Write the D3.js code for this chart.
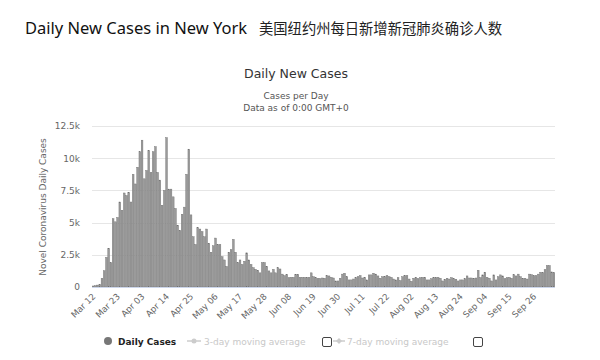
<!DOCTYPE html>
<html>
<head>
<meta charset="utf-8">
<script src="https://cdn.jsdelivr.net/npm/d3@7"></script>
<style>
  html, body { margin: 0; padding: 0; background: #fff; }
  svg { display: block; }
</style>
</head>
<body>
<svg id="chart" width="600" height="360"></svg>
<script>
// ---- data ----
const startDay = "2020-03-12";
const dailyCases = [
  80, 100, 150, 200, 670, 1260, 2300, 3000, 1900, 5300,
  5060, 5400, 6600, 5960, 7300, 7100, 7350, 6600, 8750, 8000,
  9300, 10500, 11400, 8400, 9050, 10600, 8900, 10500, 10900, 8900,
  8300, 6350, 7500, 11600, 7600, 7600, 7000, 6100, 4800, 4400,
  5650, 6200, 8750, 10700, 5600, 3900, 3300, 4600, 4500, 4300,
  3900, 4500, 3400, 2700, 3200, 3800, 3300, 3300, 2350, 2100,
  1600, 2700, 2900, 3700, 2700, 1900, 2100, 1750, 2000, 2650,
  2100, 1750, 1500, 1370, 1300, 1100, 1900, 1900, 1600, 1250,
  1100, 1370, 1100, 1500, 1400, 1000, 880, 980, 720, 750,
  750, 980, 980, 750, 750, 750, 750, 750, 1100, 800,
  720, 670, 650, 700, 680, 890, 860, 750, 700, 470,
  470, 680, 1000, 1070, 800, 550, 550, 620, 730, 800,
  890, 700, 750, 550, 940, 940, 1070, 1000, 860, 680,
  800, 800, 890, 800, 750, 620, 550, 730, 500, 800,
  890, 890, 620, 440, 680, 750, 650, 730, 750, 750,
  550, 550, 650, 730, 750, 750, 680, 470, 600, 680,
  620, 730, 650, 600, 470, 550, 550, 650, 860, 700,
  700, 680, 700, 1300, 730, 940, 1150, 750, 680, 470,
  940, 550, 800, 940, 860, 650, 730, 750, 680, 960,
  860, 1000, 800, 680, 680, 620, 1000, 960, 890, 890,
  1000, 1150, 1120, 1350, 1670, 1670, 1170, 1120
];
const yTicks = [0, 2500, 5000, 7500, 10000, 12500];
const yTickLabels = ["0", "2.5k", "5k", "7.5k", "10k", "12.5k"];
const xTickLabels = ["Mar 12", "Mar 23", "Apr 03", "Apr 14", "Apr 25", "May 06", "May 17", "May 28",
  "Jun 08", "Jun 19", "Jun 30", "Jul 11", "Jul 22", "Aug 02", "Aug 13", "Aug 24", "Sep 04", "Sep 15", "Sep 26"];
const legendItems = ["Daily Cases", "3-day moving average", "7-day moving average"];

// ---- chart ----
const svg = d3.select("#chart");
const parse = d3.timeParse("%Y-%m-%d");
const fmt = d3.timeFormat("%b %d");
const start = parse(startDay);
const days = d3.timeDay.range(start, d3.timeDay.offset(start, dailyCases.length));
const cats = days.map(fmt);

const plot = { left: 92, right: 555, top: 126, bottom: 287 };

const x = d3.scaleBand().domain(cats).range([plot.left, plot.right]).paddingInner(0.22).paddingOuter(0.1);
const y = d3.scaleLinear().domain([0, 12500]).range([plot.bottom, plot.top]);

// titles
svg.append("text").attr("x", 25).attr("y", 34)
  .style("font-family", "'Noto Sans', 'Open Sans', sans-serif").style("font-size", "16.5px").style("fill", "#111")
  .text("Daily New Cases in New York");
svg.append("text").attr("x", 259).attr("y", 34)
  .style("font-family", "'Noto Sans CJK SC', sans-serif").style("font-size", "14.3px").style("fill", "#222")
  .text("美国纽约州每日新增新冠肺炎确诊人数");

svg.append("text").attr("x", 296).attr("y", 78).attr("text-anchor", "middle")
  .style("font-family", "'DejaVu Sans', sans-serif").style("font-size", "12.5px").style("fill", "#333")
  .text("Daily New Cases");
svg.append("text").attr("x", 296).attr("y", 99).attr("text-anchor", "middle")
  .style("font-family", "'DejaVu Sans', sans-serif").style("font-size", "9px").style("fill", "#555")
  .text("Cases per Day");
svg.append("text").attr("x", 296).attr("y", 111).attr("text-anchor", "middle")
  .style("font-family", "'DejaVu Sans', sans-serif").style("font-size", "9px").style("fill", "#555")
  .text("Data as of 0:00 GMT+0");

// grid
const gridG = svg.append("g");
gridG.selectAll("line").data(yTicks.slice(1)).join("line")
  .attr("x1", plot.left).attr("x2", plot.right)
  .attr("y1", d => Math.round(y(d)) + 0.5).attr("y2", d => Math.round(y(d)) + 0.5)
  .attr("stroke", "#e6e6e6").attr("stroke-width", 1);

// y axis
const yAxis = d3.axisLeft(y).tickValues(yTicks).tickSize(0).tickPadding(0)
  .tickFormat((d, i) => yTickLabels[i]);
const yG = svg.append("g").attr("transform", `translate(80,0)`).call(yAxis);
yG.select(".domain").remove();
yG.selectAll("text").style("font-family", "'DejaVu Sans', sans-serif").style("font-size", "9px").style("fill", "#666");

svg.append("text")
  .attr("transform", "translate(46,207) rotate(-90)")
  .attr("text-anchor", "middle")
  .style("font-family", "'DejaVu Sans', sans-serif").style("font-size", "9px").style("fill", "#666")
  .text("Novel Coronavirus Daily Cases");

// bars
svg.append("g").selectAll("rect").data(dailyCases).join("rect")
  .attr("x", (d, i) => x(cats[i]))
  .attr("width", x.bandwidth())
  .attr("y", d => y(d))
  .attr("height", d => plot.bottom - y(d))
  .attr("fill", "#9a9a9a")
  .attr("stroke", "#6e6e6e").attr("stroke-width", 0.4);

// x axis
const xAxis = d3.axisBottom(x).tickValues(xTickLabels).tickSize(0).tickPadding(0);
const xG = svg.append("g").attr("transform", `translate(0,${plot.bottom})`).call(xAxis);
xG.select(".domain").attr("stroke", "#ccd6eb").attr("d", `M${plot.left},0.5H${plot.right}`);
xG.selectAll("text")
  .attr("text-anchor", "end")
  .attr("dy", null).attr("y", 0)
  .attr("transform", "translate(3,10) rotate(-45)")
  .style("font-family", "'DejaVu Sans', sans-serif").style("font-size", "8.7px").style("fill", "#666");

// legend
const lg = svg.append("g").style("font-family", "'DejaVu Sans', sans-serif").style("font-size", "9px");
lg.append("circle").attr("cx", 108).attr("cy", 341).attr("r", 4).attr("fill", "#777");
lg.append("text").attr("x", 118).attr("y", 344.5).style("font-weight", "bold").style("fill", "#222").text(legendItems[0]);

lg.append("line").attr("x1", 187).attr("x2", 201).attr("y1", 341).attr("y2", 341).attr("stroke", "#ccc").attr("stroke-width", 1.5);
lg.append("circle").attr("cx", 194).attr("cy", 341).attr("r", 2.5).attr("fill", "#ccc");
lg.append("text").attr("x", 204).attr("y", 344.5).style("fill", "#c8c8c8").text(legendItems[1]);
lg.append("rect").attr("x", 322.5).attr("y", 337.5).attr("width", 9).attr("height", 9).attr("rx", 1.5)
  .attr("fill", "#fff").attr("stroke", "#444");

lg.append("line").attr("x1", 333).attr("x2", 345).attr("y1", 341).attr("y2", 341).attr("stroke", "#ccc").attr("stroke-width", 1.5);
lg.append("path").attr("d", "M339,338 L342,341 L339,344 L336,341 Z").attr("fill", "#ccc");
lg.append("text").attr("x", 347).attr("y", 344.5).style("fill", "#c8c8c8").text(legendItems[2]);
lg.append("rect").attr("x", 473.5).attr("y", 337.5).attr("width", 9).attr("height", 9).attr("rx", 1.5)
  .attr("fill", "#fff").attr("stroke", "#444");
</script>
</body>
</html>
